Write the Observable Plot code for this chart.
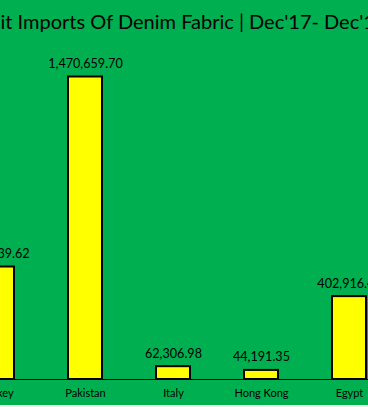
<!DOCTYPE html>
<html>
<head>
<meta charset="utf-8">
<script src="https://cdn.jsdelivr.net/npm/d3@7"></script>
<script src="https://cdn.jsdelivr.net/npm/@observablehq/plot@0.6"></script>
<style>
  html, body { margin: 0; padding: 0; background: #ececec; }
  #chart { position: relative; width: 368px; height: 405px; background: #00B050; overflow: hidden; }
  #title { position: relative; height: 40px; white-space: nowrap; }
  #title span { position: absolute; font-family: Lato, sans-serif; color: #000; line-height: 1; }
  #plot svg { display: block; overflow: hidden; }
</style>
</head>
<body>
<div id="chart">
  <div id="title"><span id="titleText"></span></div>
  <div id="plot"></div>
</div>
<script>
const titleText = "Unit Imports Of Denim Fabric | Dec'17- Dec'18";
const countries = ["Turkey", "Pakistan", "Italy", "Hong Kong", "Egypt"];
const values = [546939.62, 1470659.70, 62306.98, 44191.35, 402916.45];

const data = countries.map((c, i) => ({country: c, value: values[i]}));

// Title (cropped like the reference)
const span = document.getElementById("titleText");
const ctx = document.createElement("canvas").getContext("2d");
ctx.font = "100px Lato";
const wSeg = ctx.measureText("it Imports Of Denim Fabric | ").width;
const S = 100 * 249 / wSeg;
ctx.font = S + "px Lato";
const wUn = ctx.measureText("Un").width;
span.textContent = titleText;
span.style.fontSize = S + "px";
span.style.left = (0.5 - wUn) + "px";
span.style.top = (29 - 0.887 * S) + "px";

const chart = Plot.plot({
  width: 368,
  height: 365,
  marginLeft: 0,
  marginRight: 0,
  marginTop: 36.5,
  marginBottom: 26,
  style: {background: "transparent", fontFamily: "Lato, sans-serif", fontSize: "11px", color: "#000", overflow: "hidden"},
  x: {domain: countries, range: [-75.5, 421.5], padding: 0.616, label: null, tickSize: 0, tickPadding: 10},
  y: {domain: [0, d3.max(values)], axis: null},
  marks: [
    Plot.barY(data, {x: "country", y: "value", fill: "#FFFF00", stroke: "#000", strokeWidth: 2}),
    Plot.ruleY([0], {stroke: "#000", strokeWidth: 1}),
    Plot.text(data, {x: "country", y: "value", text: d => d3.format(",.2f")(d.value), dy: -13, fontSize: 12.6, fill: "#000"})
  ]
});
document.getElementById("plot").appendChild(chart);
</script>
</body>
</html>
